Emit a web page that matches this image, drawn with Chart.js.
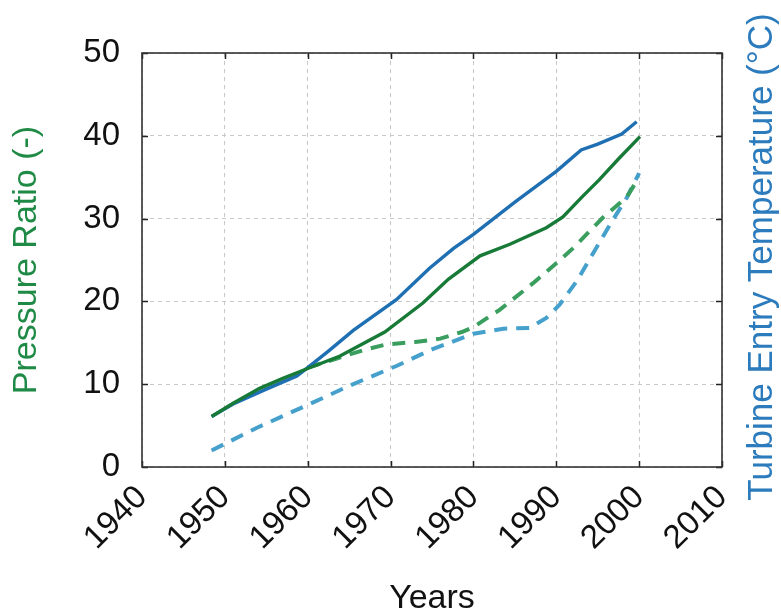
<!DOCTYPE html>
<html>
<head>
<meta charset="utf-8">
<script src="https://cdn.jsdelivr.net/npm/chart.js@4.4.1/dist/chart.umd.min.js"></script>
<style>
  html, body { margin: 0; padding: 0; background: #ffffff; }
  #wrap { width: 781px; height: 616px; position: relative; }
</style>
</head>
<body>
<div id="wrap"><canvas id="c" width="781" height="616"></canvas></div>
<script>
// ---- Data ----
const xTicks = [1940, 1950, 1960, 1970, 1980, 1990, 2000, 2010];
const yTicks = [0, 10, 20, 30, 40, 50];

const pressureYears  = [1948.4, 1951, 1954.2, 1957, 1960, 1963.9, 1969.3, 1973.9, 1977, 1980.8, 1984.4, 1988.8, 1990.8, 1993, 1995.2, 1997.5, 2000.1];
const pressureValues = [6.1, 7.7, 9.5, 10.7, 11.9, 13.4, 16.3, 19.8, 22.7, 25.5, 26.9, 28.9, 30.2, 32.5, 34.7, 37.2, 39.9];

const turbineYears  = [1948.4, 1951, 1955, 1958.7, 1960, 1962.5, 1965.5, 1970.7, 1974.7, 1977.6, 1980, 1985, 1990, 1993, 1995, 1997.9, 1999.7];
const turbineValues = [6.1, 7.6, 9.4, 11.0, 12.0, 14.0, 16.5, 20.2, 24.0, 26.4, 28.1, 32.0, 35.7, 38.3, 39.0, 40.2, 41.7];

const pressure2Years  = [1960, 1963.5, 1967, 1969.5, 1973, 1976, 1978.6, 1980, 1983.2, 1987.2, 1990, 1992, 1995.6, 1998.5, 2000];
const pressure2Values = [12.0, 13.1, 14.2, 14.8, 15.1, 15.5, 16.3, 16.9, 19.0, 22.2, 24.6, 26.4, 30.1, 32.6, 35.0];

const turbine2Years  = [1948.4, 1954, 1960, 1965, 1970.7, 1975, 1980, 1983.6, 1986.8, 1988.8, 1990.4, 1992.5, 1994.2, 1996.8, 1998.5, 2000];
const turbine2Values = [2.0, 4.8, 7.5, 9.8, 12.2, 14.2, 16.1, 16.7, 16.8, 18.0, 19.6, 22.5, 25.4, 29.8, 32.5, 35.5];

const xTitle = 'Years';
const yTitle = 'Pressure Ratio (-)';
const y1Title = 'Turbine Entry Temperature (°C)';

// ---- helpers ----
function pts(xs, ys) { return xs.map((x, i) => ({ x: x, y: ys[i] })); }

const FONT = "'Liberation Sans', Arial, Helvetica, sans-serif";
const GREEN = '#177a37';
const BLUE = '#1f6fb3';
const GREEN_D = '#3a9e5f';
const BLUE_D = '#45a0cc';

const framePlugin = {
  id: 'frame',
  beforeDatasetsDraw(chart) {
    const { ctx, chartArea: a, scales } = chart;
    ctx.save();
    // inward ticks
    ctx.strokeStyle = '#222';
    ctx.lineWidth = 1.5;
    ctx.beginPath();
    xTicks.forEach(v => {
      const px = Math.round(scales.x.getPixelForValue(v)) + 0.5;
      ctx.moveTo(px, a.top); ctx.lineTo(px, a.top + 6);
      ctx.moveTo(px, a.bottom); ctx.lineTo(px, a.bottom - 6);
    });
    yTicks.forEach(v => {
      const py = Math.round(scales.y.getPixelForValue(v)) + 0.5;
      ctx.moveTo(a.left, py); ctx.lineTo(a.left + 6, py);
      ctx.moveTo(a.right, py); ctx.lineTo(a.right - 6, py);
    });
    ctx.stroke();
    // frame
    ctx.strokeStyle = '#333';
    ctx.lineWidth = 1.6;
    ctx.strokeRect(a.left, a.top, a.right - a.left, a.bottom - a.top);
    ctx.restore();
  },
  afterDraw(chart) {
    // right axis title, reading bottom-to-top like the reference
    const { ctx, chartArea: a } = chart;
    const s = chart.scales.y1;
    ctx.save();
    ctx.translate(s.right - 19, (a.top + a.bottom) / 2 - 3);
    ctx.rotate(-Math.PI / 2);
    ctx.font = '35px ' + FONT;
    ctx.fillStyle = '#2b7bbd';
    ctx.textAlign = 'center';
    ctx.textBaseline = 'middle';
    ctx.fillText(y1Title, 0, 0);
    ctx.restore();
  }
};

new Chart(document.getElementById('c'), {
  type: 'line',
  data: {
    datasets: [
      { label: 'Pressure Ratio', data: pts(pressureYears, pressureValues), yAxisID: 'y',
        borderColor: GREEN, borderWidth: 3.4, pointRadius: 0, tension: 0, fill: false },
      { label: 'Turbine Entry Temperature', data: pts(turbineYears, turbineValues), yAxisID: 'y1',
        borderColor: BLUE, borderWidth: 3.4, pointRadius: 0, tension: 0, fill: false },
      { label: 'Pressure Ratio (dashed)', data: pts(pressure2Years, pressure2Values), yAxisID: 'y',
        borderColor: GREEN_D, borderWidth: 4, borderDash: [13, 9], pointRadius: 0, tension: 0, fill: false },
      { label: 'Turbine Entry Temperature (dashed)', data: pts(turbine2Years, turbine2Values), yAxisID: 'y1',
        borderColor: BLUE_D, borderWidth: 4, borderDash: [13, 9], pointRadius: 0, tension: 0, fill: false }
    ]
  },
  options: {
    responsive: false,
    animation: false,
    layout: { padding: { top: 53, left: 0, right: 0, bottom: 0 } },
    plugins: { legend: { display: false }, tooltip: { enabled: false } },
    scales: {
      x: {
        type: 'linear', min: 1940, max: 2010,
        afterBuildTicks(s) { s.ticks = xTicks.map(v => ({ value: v })); },
        afterFit(s) { s.height = 149; },
        ticks: {
          minRotation: 45, maxRotation: 45, padding: 11, color: '#111',
          font: { family: FONT, size: 33 },
          callback: v => String(v)
        },
        grid: { color: '#c8c8c8', lineWidth: 1, drawTicks: false },
        border: { display: false, dash: [4, 4] },
        title: { display: true, text: xTitle, color: '#111',
          font: { family: FONT, size: 34, lineHeight: 1 }, padding: { top: 0, bottom: 0 } }
      },
      y: {
        type: 'linear', position: 'left', min: 0, max: 50,
        afterBuildTicks(s) { s.ticks = yTicks.map(v => ({ value: v })); },
        afterFit(s) { s.width = 142; },
        ticks: { padding: 22, color: '#111', font: { family: FONT, size: 33 } },
        grid: { color: '#c8c8c8', lineWidth: 1, drawTicks: false },
        border: { display: false, dash: [4, 4] },
        title: { display: true, text: yTitle, color: '#1e8a45',
          font: { family: FONT, size: 34, lineHeight: 1.2 }, padding: { top: 6, bottom: 0 } }
      },
      y1: {
        type: 'linear', position: 'right', min: 0, max: 50,
        afterFit(s) { s.width = 59; },
        ticks: { display: false },
        grid: { display: false, drawTicks: false },
        border: { display: false },
        title: { display: false, text: y1Title }
      }
    }
  },
  plugins: [framePlugin]
});
</script>
</body>
</html>
